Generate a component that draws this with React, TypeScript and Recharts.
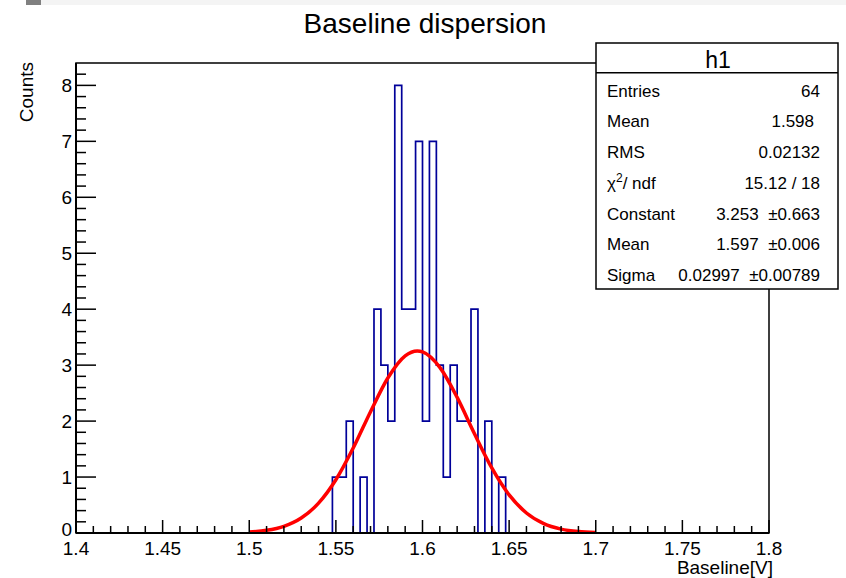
import React from 'react';
import { ComposedChart, Line, XAxis, YAxis, ReferenceArea } from 'recharts';

const FONT = '"Liberation Sans", Arial, Helvetica, sans-serif';

// histogram h1: 0.004 wide bins, only the filled range is listed
const binStart = 1.548;
const binWidth = 0.004;
const binCounts = [1, 1, 2, 0, 1, 0, 4, 3, 2, 8, 4, 4, 7, 2, 7, 3, 1, 3, 2, 2, 4, 0, 2, 0, 1];

// gaussian fit curve (fit range 1.5 - 1.7)
const fitX = [1.5, 1.51, 1.52, 1.53, 1.54, 1.55, 1.56, 1.57, 1.58, 1.59, 1.597, 1.6, 1.61, 1.62, 1.63, 1.64, 1.65, 1.66, 1.67, 1.68, 1.69, 1.7];
const fitY = [0.017, 0.048, 0.12, 0.267, 0.533, 0.951, 1.518, 2.168, 2.77, 3.166, 3.253, 3.237, 2.961, 2.423, 1.774, 1.162, 0.681, 0.357, 0.167, 0.07, 0.026, 0.009];

const xMajorLabels = ['1.4', '1.45', '1.5', '1.55', '1.6', '1.65', '1.7', '1.75', '1.8'];
const yMajorLabels = ['0', '1', '2', '3', '4', '5', '6', '7', '8'];

const statRows = [
  { label: 'Entries', value: '64' },
  { label: 'Mean', value: '1.598' },
  { label: 'RMS', value: '0.02132' },
  { label: 'chi2', value: '15.12 / 18' },
  { label: 'Constant', value: '3.253  \u00b10.663' },
  { label: 'Mean', value: '1.597  \u00b10.006' },
  { label: 'Sigma', value: '0.02997  \u00b10.00789' },
];

// tick positions (every 0.01 on x, every 0.2 on y)
const xTicks: number[] = [];
for (let i = 0; i <= 40; i++) xTicks.push(+(1.4 + i * 0.01).toFixed(3));
const yTicks: number[] = [];
for (let i = 0; i <= 41; i++) yTicks.push(+(i * 0.2).toFixed(2));

const histPoints = [{ x: binStart, y: 0 }];
binCounts.forEach((c, i) => histPoints.push({ x: binStart + i * binWidth, y: c }));
histPoints.push({ x: binStart + binCounts.length * binWidth, y: 0 });

const fitPoints = fitX.map((x, i) => ({ x, y: fitY[i] }));

const XTick = (props: any) => {
  const { x, y, index } = props;
  const major = index % 5 === 0;
  return (
    <g>
      <line x1={x} y1={y} x2={x} y2={y - (major ? 13 : 7)} stroke="#000" strokeWidth={1.5} />
      {major && (
        <text x={x} y={y + 22} textAnchor="middle" fontSize={19} fontFamily={FONT} fill="#000">
          {xMajorLabels[index / 5]}
        </text>
      )}
    </g>
  );
};

const YTick = (props: any) => {
  const { x, y, index } = props;
  const major = index % 5 === 0;
  // the "0" sits just above the "1.4" label, nudge it up a little
  const dy = index === 0 ? 3 : 6.5;
  return (
    <g>
      <line x1={x} y1={y} x2={x + (major ? 20 : 10)} y2={y} stroke="#000" strokeWidth={1.5} />
      {major && (
        <text x={x - 4} y={y + dy} textAnchor="end" fontSize={19} fontFamily={FONT} fill="#000">
          {yMajorLabels[index / 5]}
        </text>
      )}
    </g>
  );
};

const Overlay = () => (
  <svg width={846} height={578} style={{ position: 'absolute', left: 0, top: 0, pointerEvents: 'none' }}>
    <rect x={41} y={0} width={805} height={5} fill="#f4f4f4" />
    <rect x={26} y={0} width={15} height={5} fill="#808080" />
    <text x={425} y={33} textAnchor="middle" fontSize={28} fontFamily={FONT} fill="#000">
      Baseline dispersion
    </text>
    <text
      x={33}
      y={62}
      transform="rotate(-90 33 62)"
      textAnchor="end"
      fontSize={19}
      fontFamily={FONT}
      fill="#000"
    >
      Counts
    </text>
    <text x={773} y={574} textAnchor="end" fontSize={19} fontFamily={FONT} fill="#000">
      Baseline[V]
    </text>
    <rect x={596} y={43} width={242} height={246} fill="#fff" stroke="#000" strokeWidth={1.5} />
    <line x1={596} y1={72.7} x2={838} y2={72.7} stroke="#000" strokeWidth={1.5} />
    <text x={718} y={68} textAnchor="middle" fontSize={23} fontFamily={FONT} fill="#000">
      h1
    </text>
    {statRows.map((r, i) => {
      const by = 96.7 + i * 30.7;
      return (
        <g key={i} fontFamily={FONT} fontSize={17} fill="#000">
          {r.label === 'chi2' ? (
            <text x={607} y={by}>
              {'\u03c7'}
              <tspan dy={-7} fontSize={12}>2</tspan>
              <tspan dy={7}>/ ndf</tspan>
            </text>
          ) : (
            <text x={607} y={by}>{r.label}</text>
          )}
          <text x={i === 1 ? 814 : 820} y={by} textAnchor="end" style={{ whiteSpace: 'pre' }}>
            {r.value}
          </text>
        </g>
      );
    })}
  </svg>
);

export default function App() {
  return (
    <div style={{ position: 'absolute', left: 0, top: 0, width: 846, height: 578, background: '#fff' }}>
      <ComposedChart width={846} height={578} margin={{ top: 63, right: 77, left: 0, bottom: 0 }}>
        <XAxis
          dataKey="x"
          type="number"
          domain={[1.4, 1.8]}
          ticks={xTicks}
          interval={0}
          height={45}
          tickSize={0}
          tickMargin={0}
          tick={<XTick />}
          axisLine={{ stroke: '#000', strokeWidth: 2 }}
          allowDataOverflow
        />
        <YAxis
          type="number"
          domain={[0, 8.4]}
          ticks={yTicks}
          interval={0}
          width={76}
          tickSize={0}
          tickMargin={0}
          tick={<YTick />}
          axisLine={{ stroke: '#000', strokeWidth: 2 }}
          allowDataOverflow
        />
        <ReferenceArea x1={1.4} x2={1.8} y1={0} y2={8.4} fill="none" stroke="#000" strokeWidth={1.5} fillOpacity={0} />
        <Line
          data={histPoints}
          dataKey="y"
          type="stepAfter"
          stroke="#000099"
          strokeWidth={1.7}
          dot={false}
          isAnimationActive={false}
        />
        <Line
          data={fitPoints}
          dataKey="y"
          type="monotone"
          stroke="#ff0000"
          strokeWidth={3.5}
          dot={false}
          isAnimationActive={false}
        />
      </ComposedChart>
      <Overlay />
    </div>
  );
}
